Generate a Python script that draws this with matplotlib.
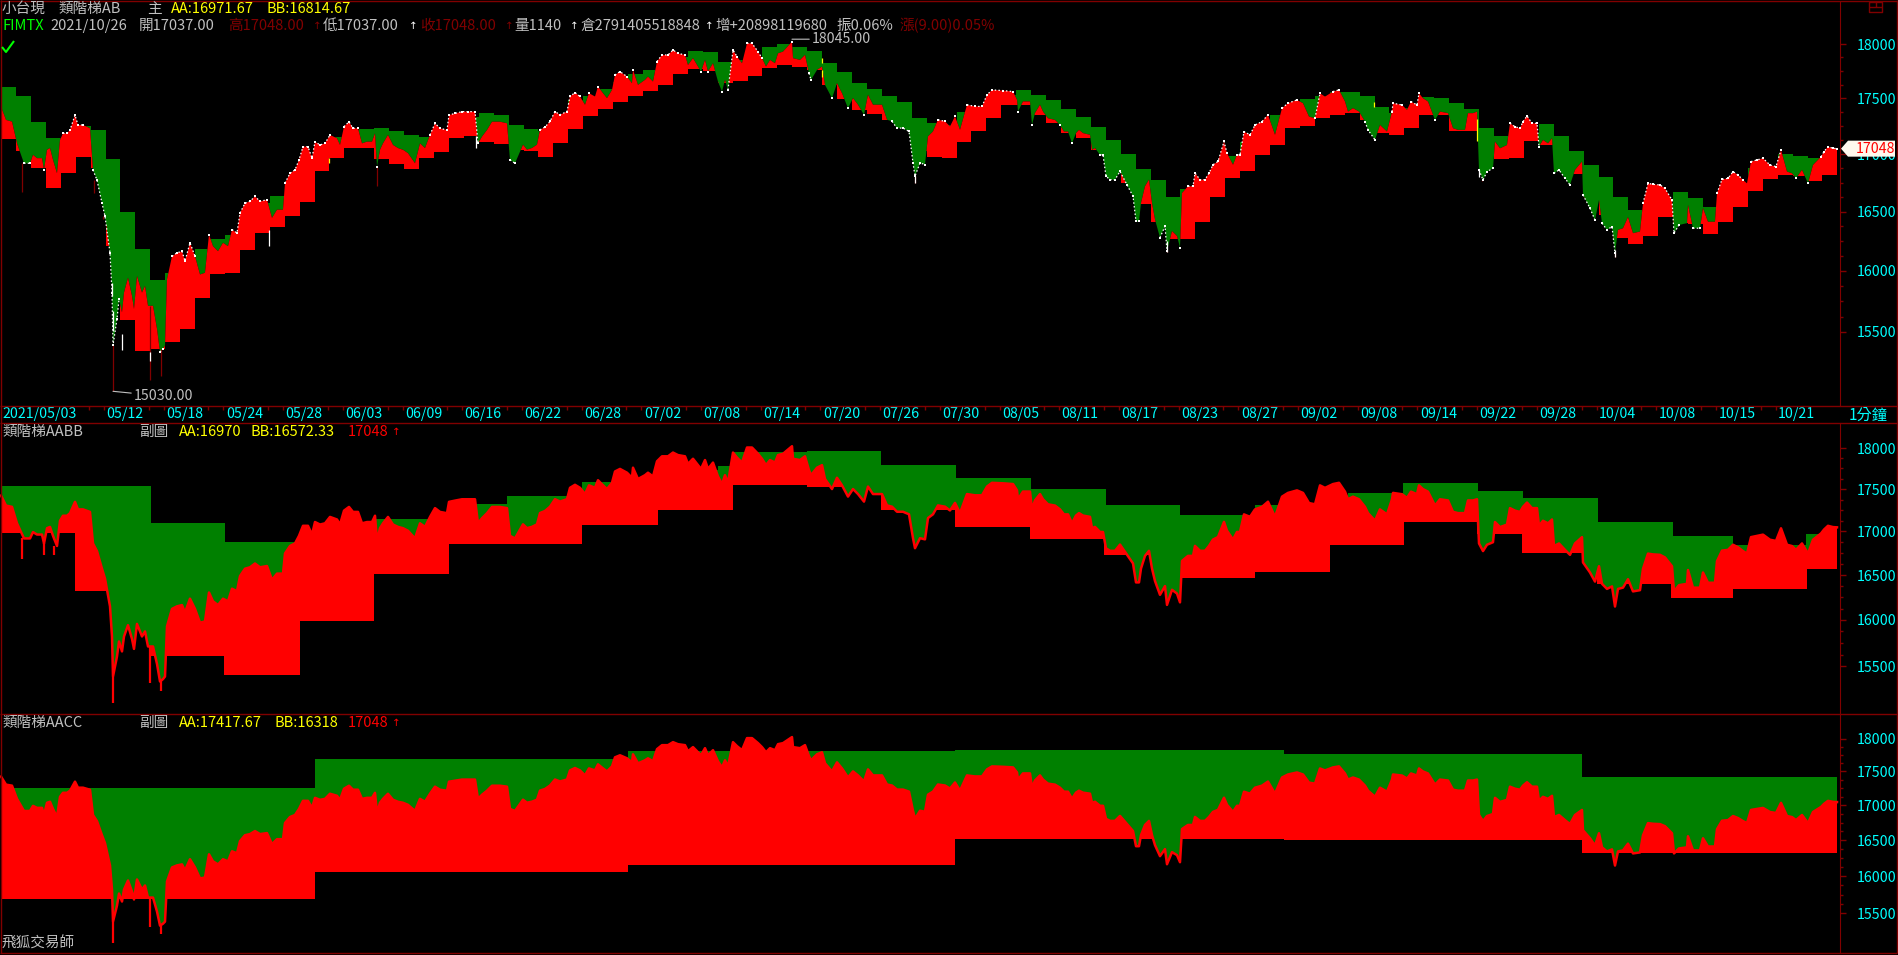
import numpy as np
import matplotlib
matplotlib.use('Agg')
import matplotlib.pyplot as plt
from matplotlib.lines import Line2D
from matplotlib.patches import Polygon, PathPatch
from matplotlib.path import Path
from matplotlib.ticker import FixedLocator, NullFormatter, FixedFormatter

plt.rcParams['font.family'] = ['Noto Sans CJK TC', 'DejaVu Sans']

# Price: bar position and close
bars = [1,6,12,17,24,30,33,37,42,44,47,50,53,57,60,63,67,70,75,78,83,90,93,97,102,105,110,112,113,117,119,122,124,128,132,134,137,142,145,148,153,157,160,163,165,167,172,177,182,185,190,195,200,205,209,213,218,223,228,232,237,240,245,250,255,260,267,272,277,283,285,290,295,299,303,308,312,315,320,325,330,337,340,344,349,353,358,362,367,372,375,377,380,383,388,393,398,403,408,415,420,425,430,435,440,447,449,455,462,468,475,478,482,487,492,500,507,510,515,
        523,527,532,537,540,545,550,555,560,567,570,575,580,585,589,595,598,603,607,612,615,620,627,632,633,638,645,648,653,657,662,668,673,678,685,688,693,698,701,705,708,713,718,722,725,728,733,737,742,747,752,758,762,766,770,775,778,783,792,793,800,805,809,811,817,822,825,832,837,842,848,853,858,864,868,873,882,887,892,897,903,909,913,915,920,925,928,933,938,945,950,955,960,967,975,982,987,992,1003,1013,1017,1018,1023,1030,1032,1035,1040,
        1043,1048,1055,1060,1064,1068,1072,1076,1079,1083,1090,1092,1095,1100,1103,1106,1110,1115,1120,1127,1133,1136,1139,1141,1145,1149,1152,1155,1160,1165,1167,1172,1177,1180,1182,1188,1193,1195,1200,1205,1209,1213,1218,1224,1227,1233,1237,1240,1244,1250,1255,1262,1268,1275,1282,1288,1297,1303,1309,1315,1320,1325,1333,1339,1345,1348,1353,1359,1365,1368,1375,1380,1387,1392,1393,1402,1407,1411,1417,1419,1423,1428,1435,1440,1448,1453,1458,1465,1468,1473,1477,
        1479,1483,1487,1493,1495,1500,1507,1510,1515,1520,1523,1527,1532,1537,1539,1543,1548,1552,1554,1559,1565,1570,1575,1582,1583,1590,1595,1599,1602,1607,1612,1615,1618,1623,1628,1633,1640,1643,1648,1653,1660,1665,1672,1674,1679,1687,1688,1693,1700,1703,1708,1715,1717,1722,1728,1733,1738,1743,1747,1751,1757,1763,1770,1776,1781,1787,1792,1796,1802,1808,1813,1821,1824,1828,1833,1837]
price = [17424,17304,17289,17095,16919,16919,16993,16964,16964,16861,17038,17053,16949,16832,17125,17184,17184,17214,17348,17259,17259,17229,16861,16772,16572,16460,16150,15820,15392,15605,15766,15659,15820,15943,15793,15686,15957,15820,15875,15712,15712,15525,15340,15365,15392,15930,16122,16150,16164,16082,16235,16122,15970,15984,16304,16206,16164,16235,16206,16346,16318,16488,16572,16588,16631,16588,16602,16446,16516,16516,16746,16832,16861,16949,17066,17066,16964,17110,17081,17095,17170,17140,17081,17244,17288,17229,17229,17095,17110,17110,17184,16890,17038,17095,17170,17081,17053,17038,17008,16919,17095,17053,17170,17274,17229,17214,17348,17363,17379,17379,17379,17095,17155,17214,17288,17288,17274,16949,16919,
         17083,17039,17054,17083,17216,17240,17291,17380,17351,17380,17516,17552,17516,17441,17546,17516,17607,17546,17501,17576,17713,17744,17698,17637,17759,17622,17668,17698,17652,17837,17898,17898,17944,17913,17898,17805,17868,17790,17744,17852,17744,17821,17652,17561,17668,17576,17944,17883,17821,18006,18006,17929,17868,17790,17852,17821,17913,17929,18022,17868,17852,17898,17729,17668,17759,17790,17622,17501,17637,17546,17411,17501,17441,17351,17531,17441,17441,17306,17291,17231,17231,17201,16922,16806,16922,16908,17157,17201,17306,17291,17246,17336,17216,17441,17426,17426,17531,17576,17570,17561,17486,17380,17471,17471,17261,17366,17441,
         17379,17319,17304,17259,17200,17200,17097,17186,17215,17186,17171,17038,17053,16994,16994,16805,16776,16776,16848,16732,16632,16417,16417,16574,16718,16776,16574,16432,16278,16376,16166,16334,16292,16194,16660,16718,16718,16833,16776,16776,16833,16906,16935,17112,17009,16906,16994,16994,17200,17171,17259,17289,17350,17171,17410,17455,17485,17455,17334,17319,17545,17515,17561,17576,17470,17379,17410,17379,17289,17215,17126,17259,17200,17379,17455,17439,17395,17470,17439,17545,17500,17470,17304,17379,17365,17230,17215,17215,17365,17365,17379,
         16861,16773,16846,16875,17110,17051,17080,17274,17244,17229,17289,17340,17274,17274,17066,17125,17095,17140,16831,16861,16787,16730,16861,16934,16643,16529,16426,16600,16401,16344,16372,16148,16344,16358,16453,16316,16330,16571,16744,16735,16730,16700,16600,16316,16386,16401,16557,16358,16358,16529,16413,16413,16658,16778,16787,16846,16817,16773,16744,16934,16948,16963,16904,16890,17037,16846,16831,16787,16861,16744,16904,16977,17022,17066,17051,17048]

# Main panel ladder, one level per step
main_aa = [17599,17520,17285,17142,17155,17250,17214,16958,16499,16186,15921,15984,16078,16186,16271,16304,16431,16572,16636,16716,16890,17066,17155,17214,17223,17232,17205,17170,17150,17199,17274,17334,17367,17348,17259,
           17225,17201,17329,17486,17516,17585,17652,17719,17759,17821,17883,17935,17926,17834,17852,17821,17972,18000,17972,17935,17824,17741,17640,17585,17522,17468,17324,17279,17261,17377,17380,17501,17531,17576,17531,
           17485,17403,17331,17242,17126,17003,16871,16776,16629,16691,16746,16833,16985,17109,17230,17350,17410,17494,17522,17558,17558,17522,17422,17365,17410,17511,17502,17457,17403,17232,17160,17125,17184,17268,17160,17028,16904,16799,16627,16516,16544,16571,16669,16618,16541,16630,16744,16878,16875,17001,16983,16966,16971.67]
main_bb = [17132,17023,16879,16705,16835,16976,16879,16211,15597,15346,15367,15422,15525,15774,15970,15984,16178,16321,16372,16458,16584,16852,16967,17055,17055,16958,16914,16870,16967,17020,17143,17161,17107,17089,17036,
           17025,16977,17101,17225,17341,17405,17469,17522,17568,17622,17723,17769,17750,17637,17658,17704,17778,17805,17787,17759,17622,17495,17395,17359,17306,17246,17023,16977,16968,17110,17207,17323,17441,17441,17351,
           17278,17189,17144,17038,16921,16750,16569,16407,16265,16265,16415,16629,16793,16854,16994,17082,17233,17251,17322,17350,17368,17304,17186,17171,17233,17349,17349,17205,17205,17022,16957,16966,17116,17080,17006,16825,16617,16472,16277,16226,16293,16452,16400,16395,16311,16412,16541,16678,16782,16817,16808,16764,16814.67]
main_edges = 1 + 14.93 * np.arange(len(main_aa) + 1)

# First sub panel (AABB)
sub1_aa_edges = [1,151,225,300,375,449,507,582,658,718,733,807,881,956,1031,1106,1180,1255,1348,1403,1478,1523,1598,1673,1733,1806,1837]
sub1_aa = [17536,17098,16878,16958,17145,17322,17417,17585,17730,17778,17949,17961,17790,17633,17501,17310,17192,17310,17453,17573,17477,17393,17110,16947,16843,16970]
sub1_bb_edges = [1,75,151,224,300,374,449,582,658,733,807,881,955,1030,1104,1180,1255,1330,1404,1477,1522,1597,1671,1733,1807,1837]
sub1_bb = [16982,16321,15612,15410,15990,16512,16854,17075,17251,17549,17525,17251,17051,16912,16723,16471,16538,16843,17113,16970,16751,16399,16243,16343,16572.33]

# Second sub panel (AACC)
sub2_edges = [1,315,628,955,1284,1582,1837]
sub2_aa = [17254,17687,17809,17824,17763,17417.67]
sub2_bb = [15693,16059,16155,16518,16504,16318]

# Wicks below the close
main_wick_x = [22,94,103,113,150,161,377,915,1167,1482,1615]
main_wick_low = [16671,16660,16437,15030,15119,15147,16724,16745,16160,16760,16119]
sub_wick_x = [22,44,54,113,150,161]
sub_wick_low = [16682,16728,16728,15115,15320,15235]
white_x = [112,113,122,150,269,476,915,1167,1479,1615]
white_top = [15903,15670,15480,15340,16346,17161,16806,16250,16861,16176]
white_low = [15793,15510,15352,15270,16206,17053,16745,16160,16803,16119]
yellow_x = [329,822,822,1374,1477]
yellow_top = [16964,17868,17759,17470,17311]
yellow_low = [16919,17821,17698,17425,17120]

date_x = [2] + [106.5 + 59.7 * i for i in range(29)]
date_labels = ['2021/05/03','05/12','05/18','05/24','05/28','06/03','06/09','06/16','06/22','06/28','07/02','07/08','07/14','07/20','07/26','07/30',
               '08/05','08/11','08/17','08/23','08/27','09/02','09/08','09/14','09/22','09/28','10/04','10/08','10/15','10/21']
major_prices = [15500,16000,16500,17000,17500,18000]
minor_prices = [15625,15750,15875,16125,16250,16375,16625,16750,16875,17125,17250,17375,17625,17750,17875]

W, H = 1898, 955
RED, GREEN, DARK = '#ff0000', '#008000', '#800000'
CYAN, YELLOW, GRAY = '#00ffff', '#ffff00', '#c0c0c0'
FS = 10.2
HEAD_FS = 10.5

bars = np.array(bars, float)
price = np.array(price, float)
fig = plt.figure(figsize=(W / 100, H / 100), dpi=100, facecolor='black')


def make_panel(y_top, y_bot, y_18000, scale):
    # scale: pixels per unit of ln(price)
    ax = fig.add_axes([0, 1 - y_bot / H, 1840 / W, (y_bot - y_top) / H], facecolor='black')
    ax.set_yscale('log')
    ax.set_xlim(0, 1840)
    ax.set_ylim(18000 * np.exp(-(y_bot - y_18000) / scale), 18000 * np.exp((y_18000 - y_top) / scale))
    for side in ['top', 'left', 'bottom']:
        ax.spines[side].set_visible(False)
    ax.spines['right'].set_color(DARK)
    ax.yaxis.tick_right()
    ax.yaxis.set_major_locator(FixedLocator(major_prices))
    ax.yaxis.set_major_formatter(FixedFormatter([str(p) for p in major_prices]))
    ax.yaxis.set_minor_locator(FixedLocator(minor_prices))
    ax.yaxis.set_minor_formatter(NullFormatter())
    ax.tick_params(axis='y', which='major', length=4, width=1, color=DARK, labelcolor=CYAN, labelsize=FS, pad=8)
    ax.tick_params(axis='y', which='minor', length=2, width=1, color=DARK)
    ax.set_xticks([])
    return ax


def draw_ladder(ax, aa_edges, aa, bb_edges, bb):
    y0, y1 = ax.get_ylim()
    under = Path(np.column_stack([np.r_[bars[0], bars, bars[-1]], np.r_[y0, price, y0]]))
    over = Path(np.column_stack([np.r_[bars[0], bars, bars[-1]], np.r_[y1, price, y1]]))
    green = ax.fill_between(aa_edges, np.r_[aa, aa[-1]], y0, step='post', color=GREEN, lw=0, zorder=2)
    green.set_clip_path(PathPatch(over, transform=ax.transData))
    red = ax.fill_between(bb_edges, np.r_[bb, bb[-1]], y1, step='post', color=RED, lw=0, zorder=2)
    red.set_clip_path(PathPatch(under, transform=ax.transData))


def px_text(x, y, s, color=GRAY, size=HEAD_FS):
    fig.text(x / W, 1 - y / H, s, color=color, fontsize=size, va='center', ha='left')


def px_arrow(x, y, color):
    # narrow arrow so it stays between the header fields
    fig.text(x / W, 1 - y / H, '↑', color=color, fontsize=7.5, va='center', ha='left', family='DejaVu Sans')


def px_line(xs, ys, color=DARK, lw=1.0):
    fig.add_artist(Line2D(np.array(xs) / W, 1 - np.array(ys) / H, transform=fig.transFigure,
                          color=color, lw=lw, solid_capstyle='butt'))


# Main panel
ax1 = make_panel(2, 406, 44, 1926)
draw_ladder(ax1, main_edges, main_aa, main_edges, main_bb)
ax1.vlines(main_wick_x, [price[np.searchsorted(bars, x)] for x in main_wick_x], main_wick_low, color=DARK, lw=0.9, zorder=3)
ax1.vlines(white_x, white_top, white_low, color='white', lw=0.9, zorder=4)
ax1.vlines(yellow_x, yellow_top, yellow_low, color=YELLOW, lw=0.9, zorder=4)
step_at = np.clip(np.searchsorted(main_edges, bars) - 1, 0, len(main_aa) - 1)
outside = (price > np.array(main_aa)[step_at]) | (price < np.array(main_bb)[step_at])
# speckled white edge where the close leaves the ladder band
ax1.plot(bars, np.where(outside, price, np.nan), color='white', lw=0.9, ls=(0, (1.2, 1.8)), zorder=4)
ax1.plot(bars[outside], price[outside], ls='', marker='s', ms=1.5, mew=0, color='white', zorder=4)

ax1.annotate('15030.00', xy=(113, 15030), xytext=(21, -5), textcoords='offset pixels', color=GRAY, fontsize=FS,
             va='center', ha='left', arrowprops=dict(arrowstyle='-', color=GRAY, lw=0.8, shrinkA=0, shrinkB=0))
ax1.annotate('18045.00', xy=(792, 18045), xytext=(20, 0), textcoords='offset pixels', color=GRAY, fontsize=FS,
             va='center', ha='left', arrowprops=dict(arrowstyle='-', color=GRAY, lw=0.8, shrinkA=0, shrinkB=0))

# Date band under the main panel
ax1.set_xticks(date_x, labels=date_labels)
ax1.set_xticks([x - d for x in date_x[1:] for d in (2.5, 17.5)], minor=True)
ax1.tick_params(axis='x', which='major', length=0, labelcolor=CYAN, labelsize=FS, pad=6)
ax1.tick_params(axis='x', which='minor', length=3, width=1, color=DARK)
for lab in ax1.get_xticklabels():
    lab.set_ha('left')
    lab.set_va('center')

# Sub panels
ax2 = make_panel(423, 714, 448, 1460)
ax2.plot(bars, price, color=RED, lw=1.8, zorder=3)
draw_ladder(ax2, sub1_aa_edges, sub1_aa, sub1_bb_edges, sub1_bb)
ax2.vlines(sub_wick_x, [price[np.searchsorted(bars, x)] for x in sub_wick_x], sub_wick_low, color=RED, lw=1.6, zorder=3)

ax3 = make_panel(714, 953, 738.5, 1170)
ax3.plot(bars, price, color=RED, lw=1.8, zorder=3)
draw_ladder(ax3, sub2_edges, sub2_aa, sub2_edges, sub2_bb)
ax3.vlines(sub_wick_x, [price[np.searchsorted(bars, x)] for x in sub_wick_x], sub_wick_low, color=RED, lw=1.6, zorder=3)

# Frame and separators
px_line([0.5, 0.5], [0, 953])
px_line([0, 1897], [1.5, 1.5])
px_line([1896.5, 1896.5], [0, 953])
px_line([0, 1897], [953, 953])
px_line([0, 1897], [406, 406])
px_line([0, 1897], [423, 423])
px_line([0, 1897], [714, 714])
px_line([1869, 1882, 1882, 1869, 1869], [2, 2, 12, 12, 2])
px_line([1875.5, 1875.5], [2, 7])
px_line([1869, 1882], [7, 7])
px_text(1849, 415.5, '1分鐘', CYAN, 11)

# Last price tag on the axis
tag_y = ax1.transData.transform((0, price[-1]))[1] / H
tag = Polygon([[1841 / W, tag_y], [1848 / W, tag_y + 8 / H], [1895 / W, tag_y + 8 / H],
               [1895 / W, tag_y - 8 / H], [1848 / W, tag_y - 8 / H]],
              transform=fig.transFigure, facecolor='#fff8ee', edgecolor='none', zorder=5)
fig.add_artist(tag)
fig.text(1856 / W, tag_y, '17048', color=RED, fontsize=FS, va='center', ha='left', zorder=6)

# Header rows
px_text(2, 9, '小台現')
px_text(58, 9, '類階梯AB')
px_text(147, 9, '主')
px_text(171, 9, 'AA:16971.67', YELLOW)
px_text(267, 9, 'BB:16814.67', YELLOW)

px_text(2, 26, 'FIMTX', '#00ff00')
px_text(50, 26, '2021/10/26')
px_text(139, 26, '開17037.00')
px_text(228, 26, '高17048.00', DARK)
px_arrow(313, 26, DARK)
px_text(323, 26, '低17037.00')
px_arrow(409, 26, 'white')
px_text(420, 26, '收17048.00', DARK)
px_arrow(505, 26, DARK)
px_text(514, 26, '量1140')
px_arrow(570, 26, 'white')
px_text(580, 26, '倉2791405518848')
px_arrow(705, 26, 'white')
px_text(715, 26, '增+20898119680')
px_text(836, 26, '振0.06%')
px_text(899, 26, '漲(9.00)0.05%', DARK)
px_line([2, 6, 14], [47, 52, 41], '#00ff00', 1.5)

px_text(2, 432, '類階梯AABB')
px_text(139, 432, '副圖')
px_text(179, 432, 'AA:16970', YELLOW)
px_text(251, 432, 'BB:16572.33', YELLOW)
px_text(348, 432, '17048', RED)
px_arrow(392, 432, RED)

px_text(2, 723, '類階梯AACC')
px_text(139, 723, '副圖')
px_text(179, 723, 'AA:17417.67', YELLOW)
px_text(275, 723, 'BB:16318', YELLOW)
px_text(348, 723, '17048', RED)
px_arrow(392, 723, RED)
px_text(2, 944, '飛狐交易師')

fig.savefig('out.png', dpi=100, facecolor='black')
